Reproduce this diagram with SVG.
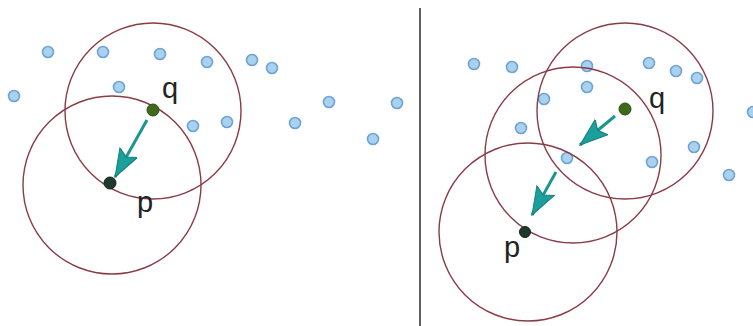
<svg xmlns="http://www.w3.org/2000/svg" width="753" height="326" viewBox="0 0 753 326">
<style>
.pt{fill:#a9d1f0;stroke:#6ea3d4;stroke-width:1.6}
.ring{fill:none;stroke:#8a3c46;stroke-width:1.4}
.q{fill:#3f6a1c;stroke:#2c4f12;stroke-width:1}
.p{fill:#1f3a2c;stroke:#132419;stroke-width:1}
.lbl{font-family:"Liberation Sans",Arial,sans-serif;font-size:29px;fill:#222}
.arr{stroke:#1c9593;stroke-width:3;fill:none;marker-end:url(#head)}
</style>
<defs>
<marker id="head" markerUnits="userSpaceOnUse" viewBox="0 -11 30 22" markerWidth="30" markerHeight="22" refX="28" refY="0" orient="auto">
<path d="M28,0 L0,-10 L5,0 L0,10 Z" fill="#1c9e9b" stroke="#14807e" stroke-width="1"/>
</marker>
</defs>
<rect width="753" height="326" fill="#ffffff"/>
<line id="divider" x1="420" y1="8" x2="420" y2="326" stroke="#5e5e5e" stroke-width="2"/>
<g id="points">
<circle class="pt" cx="48" cy="52" r="5.5"/>
<circle class="pt" cx="103" cy="52" r="5.5"/>
<circle class="pt" cx="160" cy="54" r="5.5"/>
<circle class="pt" cx="207" cy="62" r="5.5"/>
<circle class="pt" cx="252" cy="60" r="5.5"/>
<circle class="pt" cx="272" cy="68" r="5.5"/>
<circle class="pt" cx="14" cy="96" r="5.5"/>
<circle class="pt" cx="119" cy="87" r="5.5"/>
<circle class="pt" cx="193" cy="126" r="5.5"/>
<circle class="pt" cx="227" cy="122" r="5.5"/>
<circle class="pt" cx="295" cy="123" r="5.5"/>
<circle class="pt" cx="329" cy="102" r="5.5"/>
<circle class="pt" cx="373" cy="139" r="5.5"/>
<circle class="pt" cx="397" cy="103" r="5.5"/>
<circle class="pt" cx="474" cy="64" r="5.5"/>
<circle class="pt" cx="512" cy="67" r="5.5"/>
<circle class="pt" cx="587" cy="66" r="5.5"/>
<circle class="pt" cx="649" cy="63" r="5.5"/>
<circle class="pt" cx="676" cy="71" r="5.5"/>
<circle class="pt" cx="697" cy="78" r="5.5"/>
<circle class="pt" cx="544" cy="99" r="5.5"/>
<circle class="pt" cx="587" cy="87" r="5.5"/>
<circle class="pt" cx="521" cy="128" r="5.5"/>
<circle class="pt" cx="567" cy="158" r="5.5"/>
<circle class="pt" cx="652" cy="162" r="5.5"/>
<circle class="pt" cx="694" cy="147" r="5.5"/>
<circle class="pt" cx="729" cy="175" r="5.5"/>
<circle class="pt" cx="753" cy="112" r="5.5"/>
</g>
<g id="rings">
<circle class="ring" cx="153" cy="111" r="88"/>
<circle class="ring" cx="112" cy="185" r="89"/>
<circle class="ring" cx="625" cy="111" r="88"/>
<circle class="ring" cx="573" cy="155" r="88"/>
<circle class="ring" cx="528" cy="232" r="89"/>
</g>
<g id="connectors">
<line class="arr" x1="147" y1="120" x2="115" y2="177"/>
<line class="arr" x1="615" y1="116" x2="580" y2="145"/>
<line class="arr" x1="556" y1="172" x2="532" y2="215"/>
</g>
<g id="q-left"><circle class="q" cx="153" cy="110" r="6"/><text class="lbl" x="162" y="98">q</text></g>
<g id="p-left"><circle class="p" cx="110" cy="183" r="6"/><text class="lbl" x="137" y="212">p</text></g>
<g id="q-right"><circle class="q" cx="625" cy="109" r="6"/><text class="lbl" x="649" y="108">q</text></g>
<g id="p-right"><circle class="p" cx="525" cy="232" r="5.5"/><text class="lbl" x="504" y="257">p</text></g>
</svg>
